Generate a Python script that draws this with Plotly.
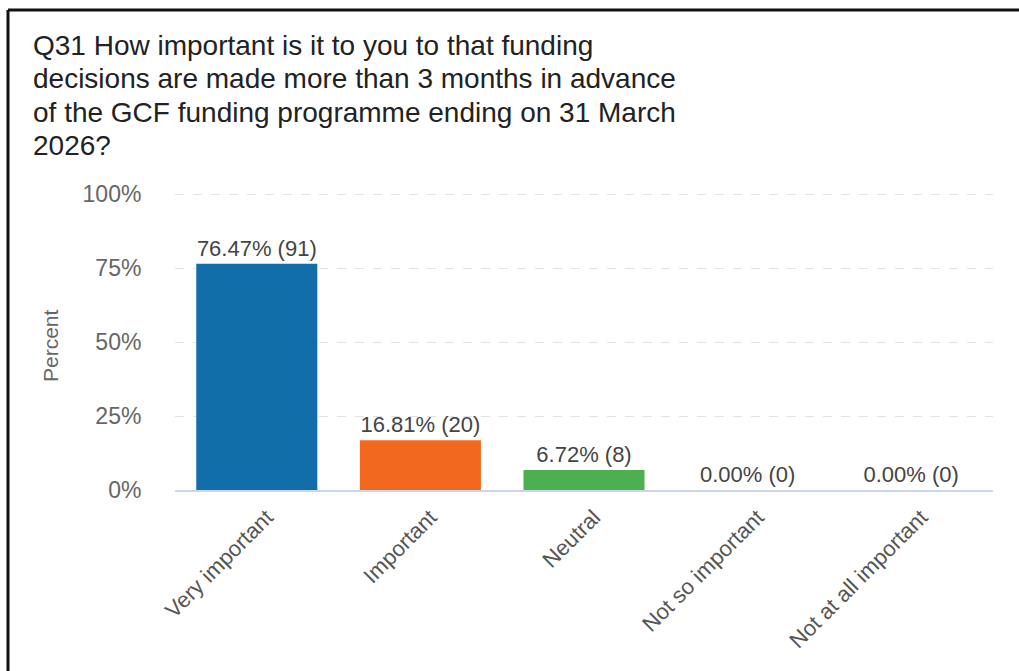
import plotly.graph_objects as go

# Survey responses for Q31
categories = ["Very important", "Important", "Neutral", "Not so important", "Not at all important"]
percents = [76.47, 16.81, 6.72, 0.00, 0.00]
counts = [91, 20, 8, 0, 0]
bar_colors = ["#116EA8", "#F2681F", "#4CAF50", "#7E57C2", "#E53935"]
y_ticks = [0, 25, 50, 75, 100]
y_tick_labels = ["0%", "25%", "50%", "75%", "100%"]
title_lines = [
    "Q31 How important is it to you to that funding",
    "decisions are made more than 3 months in advance",
    "of the GCF funding programme ending on 31 March",
    "2026?",
]

W, H = 1019, 671
L, R, T, B = 175, 26, 193, 181
Y_MAX = 100.4
FONT = "Liberation Sans, Arial, sans-serif"

def px_x(px):
    return (px - L) / (W - L - R)

def px_y(py):
    return (H - B - py) / (H - T - B)

labels = [f"{p:.2f}% ({c})" for p, c in zip(percents, counts)]

fig = go.Figure(
    go.Bar(
        x=categories,
        y=percents,
        width=0.74,
        marker=dict(color=bar_colors, line=dict(width=0)),
        text=labels,
        textposition="outside",
        textfont=dict(family=FONT, size=22, color="#444444"),
        cliponaxis=False,
        hoverinfo="skip",
    )
)

fig.update_layout(
    width=W,
    height=H,
    margin=dict(l=L, r=R, t=T, b=B, pad=0),
    paper_bgcolor="white",
    plot_bgcolor="white",
    showlegend=False,
    font=dict(family=FONT),
    bargap=0.26,
)

fig.update_yaxes(
    range=[0, Y_MAX],
    tickvals=y_ticks,
    ticktext=y_tick_labels,
    tickfont=dict(family=FONT, size=23, color="#666666"),
    showgrid=True,
    gridcolor="#e2e2e2",
    griddash="dash",
    gridwidth=1,
    zeroline=False,
    showline=False,
    ticks="outside",
    ticklen=28,
    tickcolor="rgba(0,0,0,0)",
)

fig.update_xaxes(
    tickangle=-45,
    tickfont=dict(family=FONT, size=22, color="#555555"),
    showline=True,
    linecolor="#ccd6eb",
    linewidth=1.5,
    showgrid=False,
    ticks="outside",
    ticklen=4,
    tickcolor="rgba(0,0,0,0)",
    ticklabelshift=10,
)

annotations = []
line_centers = [45, 78, 112, 145]
for txt, cy in zip(title_lines, line_centers):
    annotations.append(dict(
        text=txt, xref="paper", yref="paper",
        x=px_x(31), y=px_y(cy), xanchor="left", yanchor="middle",
        showarrow=False, font=dict(family=FONT, size=28, color="#222222"),
    ))
annotations.append(dict(
    text="Percent", xref="paper", yref="paper",
    x=px_x(50), y=px_y(345), xanchor="center", yanchor="middle",
    textangle=-90, showarrow=False,
    font=dict(family=FONT, size=21, color="#666666"),
))
fig.update_layout(annotations=annotations)

# frame lines along the top and left edges
fig.add_shape(type="line", xref="paper", yref="paper",
              x0=px_x(8), x1=px_x(W + 5), y0=px_y(10), y1=px_y(10),
              line=dict(color="#111111", width=3))
fig.add_shape(type="line", xref="paper", yref="paper",
              x0=px_x(8), x1=px_x(8), y0=px_y(10), y1=px_y(H + 5),
              line=dict(color="#111111", width=3))

fig.write_html("out.html")
